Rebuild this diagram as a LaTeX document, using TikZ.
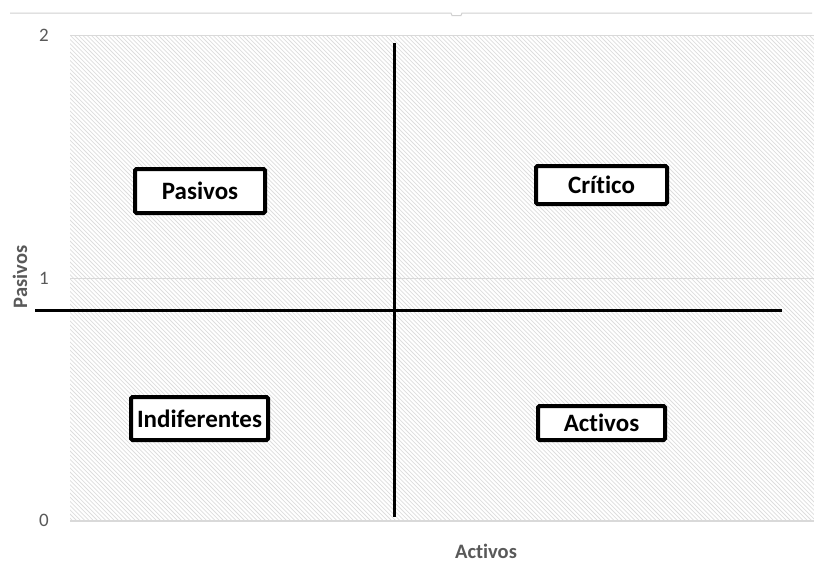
\documentclass[tikz,border=0pt]{standalone}
\usepackage{fontspec}
\setmainfont{Carlito}[Ligatures=NoCommon]
\definecolor{axisgray}{HTML}{595959}
\definecolor{gridgray}{HTML}{D9D9D9}
\definecolor{hatchgray}{HTML}{DDDDDD}
\definecolor{framegray}{HTML}{D0D0D0}
\tikzset{
  quadbox/.style={draw=black, line width=4pt, rounded corners=1.5pt, fill=white, inner sep=0pt, font=\fontsize{25}{27}\selectfont\bfseries, text=black},
  ticklabel/.style={text=axisgray, font=\fontsize{19}{21}\selectfont, inner sep=0pt},
  axistitle/.style={text=axisgray, font=\fontsize{20.5}{22}\selectfont\bfseries, inner sep=0pt},
  divider/.style={draw=black, line width=3pt},
  gridline/.style={draw=gridgray, line width=1.2pt},
  hatchline/.style={draw=hatchgray, line width=0.75pt}
}
\begin{document}
\begin{tikzpicture}[x=1pt,y=-1pt]
\useasboundingbox[fill=white] (0,0) rectangle (814,563);
% top frame line with notch
\coordinate (f1) at (10,13);
\coordinate (f2) at (812,13);
\draw[framegray, line width=1pt] (f1) -- (451,13) -- (452,15.5) -- (461,15.5) -- (462,13) -- (f2);
% hatched plot area
\begin{scope}
  \clip (70,35) rectangle (814,521);
  \foreach \i in {0,...,300} {
    \draw[hatchline] ({70-500+\i*4.2},35) -- ++(500,500);
  }
\end{scope}
% gridlines
\coordinate (g2l) at (70,35);  \coordinate (g2r) at (814,35);
\coordinate (g1l) at (70,278); \coordinate (g1r) at (814,278);
\coordinate (g0l) at (70,521); \coordinate (g0r) at (814,521);
\draw[gridline, line width=0.8pt] (g2l) -- (g2r);
\draw[gridline, line width=0.8pt] (g1l) -- (g1r);
\draw[gridline, line width=1.5pt] (g0l) -- (g0r);
% tick labels
\node[ticklabel] (t2) at (44,35) {2};
\node[ticklabel] (t1) at (44,278) {1};
\node[ticklabel] (t0) at (44,520) {0};
% axis titles
\node[axistitle, rotate=90] (ytitle) at (20,277) {Pasivos};
\node[axistitle] (xtitle) at (486,551) {Activos};
% dividers
\coordinate (vtop) at (394,43);
\coordinate (vbot) at (394,517);
\coordinate (hl) at (35,310);
\coordinate (hr) at (782,310);
\draw[divider] (vtop) -- (vbot);
\draw[divider] (hl) -- (hr);
% quadrant boxes
\node[quadbox, minimum width=130pt, minimum height=44pt] (pasivos) at (200,191) {Pasivos};
\node[quadbox, minimum width=131pt, minimum height=38pt] (critico) at (601.5,185) {Crítico};
\node[quadbox, minimum width=137pt, minimum height=43pt] (indif) at (199.5,418.5) {Indiferentes};
\node[quadbox, minimum width=127pt, minimum height=34pt] (activos) at (601.5,423) {Activos};
\end{tikzpicture}
\end{document}
